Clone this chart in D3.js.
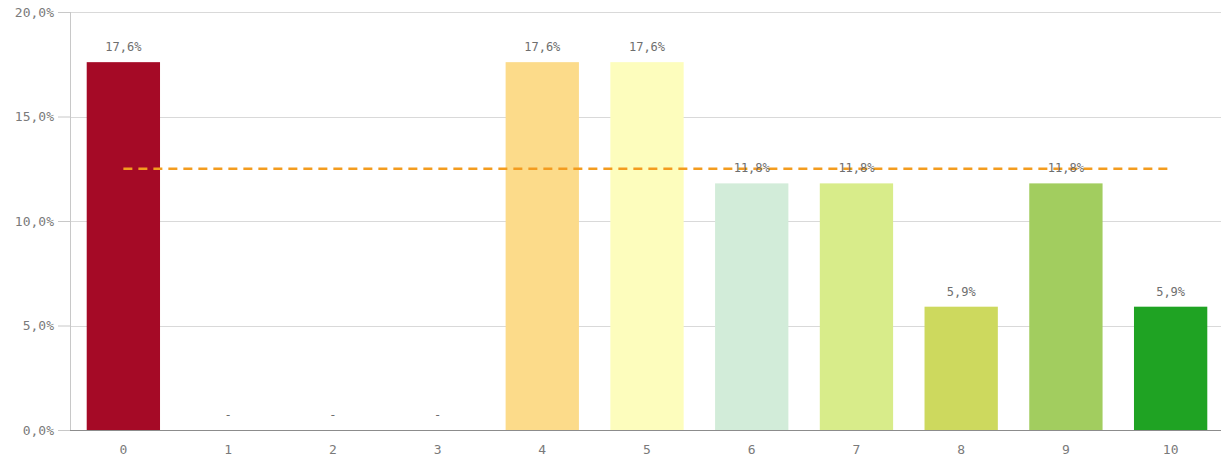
<!DOCTYPE html>
<html><head><meta charset="utf-8">
<script src="https://cdn.jsdelivr.net/npm/d3@7"></script>
<style>body{margin:0;background:#fff;}svg{display:block;}</style>
</head><body>
<svg id="c" width="1221" height="461"></svg>
<script>
const categories = ["0","1","2","3","4","5","6","7","8","9","10"];
const values = [17.6, 0, 0, 0, 17.6, 17.6, 11.8, 11.8, 5.9, 11.8, 5.9];
const barColors = ["#a50a26","#a50a26","#a50a26","#a50a26","#fcdb8a","#fdfdbd","#d2ecd9","#d8ec8a","#cdd95e","#a2cd5f","#1fa323"];
const yTicks = [0, 5, 10, 15, 20];
const referenceValue = 12.5;

(function(){
const svg = d3.select("#c");
const mLeft = 70, mRight = 1223, mTop = 12, mBottom = 430;
const x = d3.scaleBand().domain(categories).range([mLeft + 1, mRight]).paddingInner(0.3).paddingOuter(0.15);
const y = d3.scaleLinear().domain([0, 20]).range([mBottom, mTop]);
const fmt = v => v.toFixed(1).replace(".", ",") + "%";
const font = "'DejaVu Sans Mono', monospace";

svg.append("g").selectAll("line").data(yTicks.filter(d => d > 0)).join("line")
  .attr("x1", mLeft).attr("x2", 1221).attr("y1", d => Math.round(y(d)) + 0.5).attr("y2", d => Math.round(y(d)) + 0.5)
  .attr("stroke", "#d9d9d9").attr("stroke-width", 1);

const yAxis = svg.append("g").attr("transform", `translate(${mLeft},0)`)
  .call(d3.axisLeft(y).tickValues(yTicks).tickSize(12).tickPadding(4).tickFormat(fmt));
yAxis.select(".domain").attr("stroke", "#c8c8c8").attr("d", `M0.5,${mTop}V${mBottom}`);
yAxis.selectAll(".tick line").attr("stroke", "#c8c8c8");
yAxis.selectAll("text").attr("fill", "#7a7a7a").style("font-family", font).style("font-size", "13px");

svg.append("g").selectAll("rect").data(values).join("rect")
  .attr("x", (d, i) => x(categories[i])).attr("width", x.bandwidth())
  .attr("y", d => y(d)).attr("height", d => y(0) - y(d))
  .attr("fill", (d, i) => barColors[i]);

const xAxis = svg.append("g").attr("transform", `translate(0,${mBottom})`)
  .call(d3.axisBottom(x).tickSize(0).tickPadding(15));
xAxis.select(".domain").attr("stroke", "#8c8c8c").attr("d", `M${mLeft},0.5H1221`);
xAxis.selectAll("text").attr("fill", "#7a7a7a").style("font-family", font).style("font-size", "13px");

svg.append("line")
  .attr("x1", x(categories[0]) + x.bandwidth()/2)
  .attr("x2", x(categories[categories.length-1]) + x.bandwidth()/2)
  .attr("y1", y(referenceValue)).attr("y2", y(referenceValue))
  .attr("stroke", "#f39c1f").attr("stroke-width", 2.5).attr("stroke-dasharray", "9,6");

svg.append("g").selectAll("text").data(values).join("text")
  .attr("x", (d, i) => x(categories[i]) + x.bandwidth()/2)
  .attr("y", d => y(d) - 11)
  .attr("text-anchor", "middle")
  .attr("fill", "#6e6e6e")
  .style("font-family", font).style("font-size", "12px")
  .text(d => d === 0 ? "-" : fmt(d));
})();
</script>
</body></html>
